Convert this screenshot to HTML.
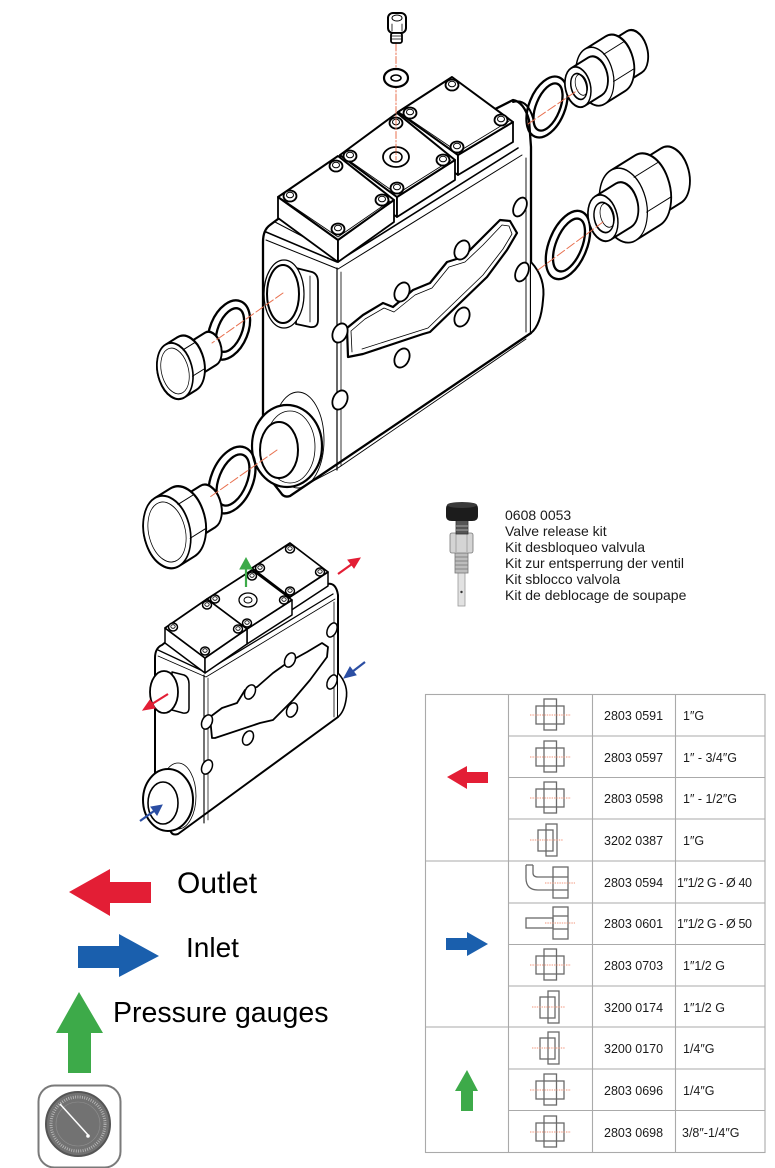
<!DOCTYPE html>
<html><head><meta charset="utf-8">
<style>
html,body{margin:0;padding:0;background:#fff;}
svg{display:block;}
text{font-family:"Liberation Sans",Arial,sans-serif;}
</style></head>
<body>
<svg width="775" height="1168" viewBox="0 0 775 1168" xmlns="http://www.w3.org/2000/svg">
<defs>
<g id="scr">
<ellipse cx="0" cy="0" rx="6.5" ry="5.5" fill="#fff" stroke="#000" stroke-width="1.8"/>
<ellipse cx="0" cy="-1" rx="3.5" ry="2.8" fill="none" stroke="#000" stroke-width="1"/>
</g>
<g id="scs">
<ellipse cx="0" cy="0" rx="4.5" ry="4" fill="#fff" stroke="#000" stroke-width="1.5"/>
<ellipse cx="0" cy="-0.5" rx="2.2" ry="1.8" fill="none" stroke="#000" stroke-width="0.8"/>
</g>
<g id="icA">
<rect x="-6" y="-16" width="12.5" height="31" fill="none" stroke="#6a6a6a" stroke-width="1.3"/>
<rect x="-14" y="-9" width="28" height="18" fill="none" stroke="#6a6a6a" stroke-width="1.3"/>
<line x1="-20" y1="0" x2="21" y2="0" stroke="#f2957a" stroke-width="0.9" stroke-dasharray="1.4 1"/>
</g>
<g id="icB">
<rect x="-12" y="-10" width="15" height="21" fill="none" stroke="#6a6a6a" stroke-width="1.3"/>
<rect x="-4" y="-16" width="11" height="32" fill="none" stroke="#6a6a6a" stroke-width="1.3"/>
<line x1="-20" y1="0" x2="13" y2="0" stroke="#f2957a" stroke-width="0.9" stroke-dasharray="1.4 1"/>
</g>
</defs>

<!-- ================= MAIN BODY ================= -->
<g stroke-linejoin="round" stroke-linecap="round">
<path d="M263,242 Q263,230 270,225 L278,219 L513,100 Q524,102 529,120 L531,147 L531,333 L290,496 Q284,498 281,493 L263,470 Z" fill="#fff" stroke="#000" stroke-width="2.3"/>
<path d="M266,232 L337,262 L518,148" fill="none" stroke="#000" stroke-width="1.6"/>
<path d="M266,240 L338,269 L522,155" fill="none" stroke="#000" stroke-width="1"/>
<path d="M275,222 L340,256" fill="none" stroke="#000" stroke-width="1"/>
<line x1="337" y1="268" x2="337" y2="470" stroke="#000" stroke-width="1.2"/>
<line x1="341" y1="272" x2="341" y2="466" stroke="#000" stroke-width="0.8"/>
<line x1="526" y1="158" x2="526" y2="332" stroke="#000" stroke-width="0.9"/>
<path d="M300,488 L338,468 L526,339" fill="none" stroke="#000" stroke-width="0.9"/>
<path d="M531,262 Q546,278 543,300 Q541,325 531,333" fill="#fff" stroke="#000" stroke-width="2"/>
<path d="M513,102 Q527,98 533,118" fill="none" stroke="#000" stroke-width="2"/>
<path d="M348,357 L347,328 L363,315 L383,303 L393,307 L413,290 L430,283 L447,262 L463,257 L480,240 L500,220 L510,221 L517,233 L507,250 L487,277 L460,303 L430,332 L423,334 L363,354 Z" fill="none" stroke="#000" stroke-width="2.2"/>
<path d="M352,352 L351,331 L365,319 L384,308 L394,312 L415,295 L432,288 L449,267 L465,262 L483,245 L502,225 L509,226 L512,234 L503,249 L483,275 L457,300 L428,328 L362,349" fill="none" stroke="#000" stroke-width="0.8"/>
<g fill="#fff" stroke="#000" stroke-width="1.8">
<ellipse cx="462" cy="250" rx="7" ry="10" transform="rotate(25 462 250)"/>
<ellipse cx="402" cy="292" rx="7" ry="10" transform="rotate(25 402 292)"/>
<ellipse cx="462" cy="317" rx="7" ry="10" transform="rotate(25 462 317)"/>
<ellipse cx="402" cy="358" rx="7" ry="10" transform="rotate(25 402 358)"/>
<ellipse cx="340" cy="333" rx="7" ry="10" transform="rotate(25 340 333)"/>
<ellipse cx="340" cy="400" rx="7" ry="10" transform="rotate(25 340 400)"/>
<ellipse cx="522" cy="272" rx="6" ry="10" transform="rotate(25 522 272)"/>
<ellipse cx="520" cy="207" rx="6" ry="10" transform="rotate(25 520 207)"/>
</g>
<path d="M296,268 L312,272 Q318,274 318,282 L318,320 Q318,328 310,327 L296,324 Z" fill="#fff" stroke="#000" stroke-width="1.8"/>
<line x1="310" y1="276" x2="310" y2="322" stroke="#000" stroke-width="0.8"/>
<ellipse cx="284" cy="294" rx="20" ry="34" fill="#fff" stroke="#000" stroke-width="1.2"/>
<ellipse cx="283" cy="294" rx="16" ry="29" fill="#fff" stroke="#000" stroke-width="2"/>
<ellipse cx="298" cy="440" rx="26" ry="48" fill="none" stroke="#000" stroke-width="0.9"/>
<ellipse cx="287" cy="446" rx="35" ry="41" fill="#fff" stroke="#000" stroke-width="2.2"/>
<ellipse cx="290" cy="447" rx="25" ry="36" fill="none" stroke="#000" stroke-width="0.8"/>
<ellipse cx="279" cy="450" rx="19" ry="28" fill="#fff" stroke="#000" stroke-width="2"/>

<!-- blocks -->
<path d="M398,112 L458,155 L458,175 L398,132 Z" fill="#fff" stroke="#000" stroke-width="1.8"/>
<path d="M458,155 L513,122 L513,142 L458,175 Z" fill="#fff" stroke="#000" stroke-width="1.8"/>
<path d="M398,112 L452,77 L513,122 L458,155 Z" fill="#fff" stroke="#000" stroke-width="2"/>
<path d="M402,114 L458,152 L509,121" fill="none" stroke="#000" stroke-width="0.8"/>
<path d="M340,155 L397,197 L397,217 L340,175 Z" fill="#fff" stroke="#000" stroke-width="1.8"/>
<path d="M397,197 L455,160 L455,180 L397,217 Z" fill="#fff" stroke="#000" stroke-width="1.8"/>
<path d="M340,155 L397,113 L455,160 L397,197 Z" fill="#fff" stroke="#000" stroke-width="2"/>
<path d="M344,157 L397,194 L451,160" fill="none" stroke="#000" stroke-width="0.8"/>
<path d="M278,197 L338,240 L338,262 L278,218 Z" fill="#fff" stroke="#000" stroke-width="1.8"/>
<path d="M338,240 L394,200 L394,222 L338,262 Z" fill="#fff" stroke="#000" stroke-width="1.8"/>
<path d="M278,197 L338,156 L394,200 L338,240 Z" fill="#fff" stroke="#000" stroke-width="2"/>
<path d="M282,199 L338,237 L390,201" fill="none" stroke="#000" stroke-width="0.8"/>
<use href="#scr" x="290" y="196"/><use href="#scr" x="336" y="166"/><use href="#scr" x="382" y="200"/><use href="#scr" x="338" y="229"/>
<use href="#scr" x="350" y="156"/><use href="#scr" x="396" y="123"/><use href="#scr" x="443" y="160"/><use href="#scr" x="397" y="188"/>
<use href="#scr" x="410" y="113"/><use href="#scr" x="452" y="85"/><use href="#scr" x="501" y="120"/><use href="#scr" x="457" y="147"/>
<ellipse cx="396" cy="157" rx="13" ry="10" fill="#fff" stroke="#000" stroke-width="1.8"/>
<ellipse cx="396" cy="157" rx="6" ry="5" fill="#fff" stroke="#000" stroke-width="1.5"/>
<!-- top screw + washer -->
<line x1="396" y1="44" x2="396" y2="160" stroke="#e8704f" stroke-width="1" stroke-dasharray="7 2 1.5 2"/>
<rect x="388" y="13" width="18" height="20" rx="5" fill="#fff" stroke="#000" stroke-width="2"/>
<ellipse cx="397" cy="18" rx="5" ry="3" fill="none" stroke="#000" stroke-width="1"/>
<line x1="392" y1="24" x2="392" y2="31" stroke="#000" stroke-width="0.8"/><line x1="402" y1="24" x2="402" y2="31" stroke="#000" stroke-width="0.8"/>
<rect x="391" y="33" width="11" height="10" rx="2" fill="#fff" stroke="#000" stroke-width="1.8"/>
<line x1="391" y1="36" x2="402" y2="36" stroke="#000" stroke-width="0.8"/><line x1="391" y1="39" x2="402" y2="39" stroke="#000" stroke-width="0.8"/>
<ellipse cx="396" cy="78" rx="12" ry="9" fill="#fff" stroke="#000" stroke-width="2.2"/>
<ellipse cx="396" cy="78" rx="5" ry="3" fill="#fff" stroke="#000" stroke-width="1.6"/>

<!-- gaskets -->
<g fill="none" stroke="#000">
<ellipse cx="229" cy="330" rx="19" ry="31" transform="rotate(22 229 330)" stroke-width="2.3"/>
<ellipse cx="230" cy="330" rx="12" ry="23" transform="rotate(22 230 330)" stroke-width="2.3"/>
<ellipse cx="232" cy="480" rx="21" ry="35" transform="rotate(22 232 480)" stroke-width="2.3"/>
<ellipse cx="233" cy="480" rx="14" ry="27" transform="rotate(22 233 480)" stroke-width="2.3"/>
<ellipse cx="547" cy="107" rx="18" ry="32" transform="rotate(22 547 107)" stroke-width="2.3"/>
<ellipse cx="548" cy="107" rx="12" ry="25" transform="rotate(22 548 107)" stroke-width="2.3"/>
<ellipse cx="568" cy="245" rx="19" ry="36" transform="rotate(22 568 245)" stroke-width="2.3"/>
<ellipse cx="569" cy="245" rx="13" ry="28" transform="rotate(22 569 245)" stroke-width="2.3"/>
</g>

<!-- upper right fitting -->
<g transform="matrix(0.85,-0.53,0.34,0.94,578,87)" fill="#fff" stroke="#000" stroke-width="2">
<path d="M44,-22 L66,-22 A14,22 0 0 1 66,22 L44,22 A14,22 0 0 1 44,-22 Z"/>
<path d="M20,-29 L44,-29 A19,29 0 0 1 44,29 L20,29 A19,29 0 0 1 20,-29 Z"/>
<ellipse cx="20" cy="0" rx="19" ry="29" stroke-width="1.3"/>
<path d="M36,-14.5 L60,-14.5 M36,14.5 L60,14.5" stroke-width="1"/>
<path d="M0,-20 L20,-20 A13,20 0 0 1 20,20 L0,20 A13,20 0 0 1 0,-20 Z"/>
<ellipse cx="0" cy="0" rx="13" ry="20" stroke-width="1.6"/>
<ellipse cx="1" cy="0" rx="8" ry="13" stroke-width="1.6"/>
<ellipse cx="4" cy="0" rx="6" ry="10.5" stroke-width="0.8" fill="none"/>
</g>
<!-- lower right fitting -->
<g transform="matrix(0.85,-0.53,0.34,0.94,603,218)" fill="#fff" stroke="#000" stroke-width="2">
<path d="M52,-29 L80,-29 A19,29 0 0 1 80,29 L52,29 A19,29 0 0 1 52,-29 Z"/>
<path d="M24,-37 L52,-37 A24,37 0 0 1 52,37 L24,37 A24,37 0 0 1 24,-37 Z"/>
<ellipse cx="24" cy="0" rx="24" ry="37" stroke-width="1.3"/>
<path d="M44,-18.5 L72,-18.5 M44,18.5 L72,18.5" stroke-width="1"/>
<path d="M0,-23 L24,-23 A15,23 0 0 1 24,23 L0,23 A15,23 0 0 1 0,-23 Z"/>
<ellipse cx="0" cy="0" rx="15" ry="23" stroke-width="1.6"/>
<ellipse cx="1" cy="0" rx="10" ry="15" stroke-width="1.6"/>
<ellipse cx="5" cy="0" rx="7" ry="12" stroke-width="0.8" fill="none"/>
</g>
<!-- upper left plug -->
<g transform="matrix(0.85,-0.53,0.34,0.94,175,371)" fill="#fff" stroke="#000" stroke-width="2.1">
<path d="M14,-17 L42,-17 A11,17 0 0 1 42,17 L14,17 A11,17 0 0 1 14,-17 Z"/>
<path d="M0,-28 L14,-28 A18,28 0 0 1 14,28 L0,28 A18,28 0 0 1 0,-28 Z"/>
<ellipse cx="0" cy="0" rx="18" ry="28" stroke-width="1.8"/>
<ellipse cx="0" cy="0" rx="14" ry="23" stroke-width="0.8" fill="none"/>
<path d="M15,-14 L29,-14 M15,14 L29,14" stroke-width="1"/>
</g>
<!-- lower left plug -->
<g transform="matrix(0.85,-0.53,0.34,0.94,167,532)" fill="#fff" stroke="#000" stroke-width="2.1">
<path d="M18,-22 L48,-22 A14,22 0 0 1 48,22 L18,22 A14,22 0 0 1 18,-22 Z"/>
<path d="M0,-36 L18,-36 A24,36 0 0 1 18,36 L0,36 A24,36 0 0 1 0,-36 Z"/>
<ellipse cx="0" cy="0" rx="24" ry="36" stroke-width="1.8"/>
<ellipse cx="0" cy="0" rx="19" ry="30" stroke-width="0.8" fill="none"/>
<path d="M20,-18 L38,-18 M20,18 L38,18" stroke-width="1"/>
</g>

<!-- axis lines -->
<g stroke="#e8704f" stroke-width="1" stroke-dasharray="9 3" fill="none">
<line x1="283" y1="293" x2="212" y2="343"/>
<line x1="277" y1="450" x2="210" y2="497"/>
<line x1="528" y1="124" x2="578" y2="90"/>
<line x1="538" y1="270" x2="603" y2="222"/>
</g>
</g>

<!-- ================= SMALL BODY ================= -->
<g stroke-linejoin="round" stroke-linecap="round">
<path d="M155,658 Q155,648 162,645 L167,641 L327,584 Q336,582 338,595 L338,717 L178,834 Q172,836 170,830 L155,805 Z" fill="#fff" stroke="#000" stroke-width="2"/>
<path d="M158,650 L205,672 L333,594" fill="none" stroke="#000" stroke-width="1.3"/>
<path d="M158,656 L206,677 L335,599" fill="none" stroke="#000" stroke-width="0.8"/>
<line x1="204" y1="675" x2="204" y2="823" stroke="#000" stroke-width="1.1"/>
<line x1="208" y1="678" x2="208" y2="820" stroke="#000" stroke-width="0.7"/>
<line x1="334" y1="602" x2="334" y2="717" stroke="#000" stroke-width="0.8"/>
<path d="M338,673 Q349,685 346,700 Q344,712 338,717" fill="#fff" stroke="#000" stroke-width="1.6"/>
<path d="M212,738 L210,717 L222,708 L237,703 L245,690 L257,687 L273,673 L287,663 L307,652 L322,643 L328,647 L327,657 L310,680 L293,700 L273,720 L260,723 L215,738 Z" fill="none" stroke="#000" stroke-width="1.8"/>
<g fill="#fff" stroke="#000" stroke-width="1.5">
<ellipse cx="290" cy="660" rx="5" ry="7.5" transform="rotate(25 290 660)"/>
<ellipse cx="250" cy="692" rx="5" ry="7.5" transform="rotate(25 250 692)"/>
<ellipse cx="292" cy="710" rx="5" ry="7.5" transform="rotate(25 292 710)"/>
<ellipse cx="248" cy="738" rx="5" ry="7.5" transform="rotate(25 248 738)"/>
<ellipse cx="207" cy="722" rx="5" ry="7.5" transform="rotate(25 207 722)"/>
<ellipse cx="207" cy="767" rx="5" ry="7.5" transform="rotate(25 207 767)"/>
<ellipse cx="332" cy="630" rx="4.5" ry="7.5" transform="rotate(25 332 630)"/>
<ellipse cx="332" cy="682" rx="4.5" ry="7.5" transform="rotate(25 332 682)"/>
</g>
<path d="M172,672 L184,675 Q189,677 189,684 L189,708 Q189,714 183,713 L172,710 Z" fill="#fff" stroke="#000" stroke-width="1.5"/>
<ellipse cx="164" cy="692" rx="14" ry="21" fill="#fff" stroke="#000" stroke-width="1.8"/>
<ellipse cx="178" cy="796" rx="18" ry="33" fill="none" stroke="#000" stroke-width="0.8"/>
<ellipse cx="168" cy="800" rx="25" ry="31" fill="#fff" stroke="#000" stroke-width="2"/>
<ellipse cx="163" cy="803" rx="15" ry="21" fill="#fff" stroke="#000" stroke-width="1.6"/>
<path d="M252,568 L290,597 L290,611 L252,582 Z" fill="#fff" stroke="#000" stroke-width="1.5"/>
<path d="M290,597 L328,572 L328,586 L290,611 Z" fill="#fff" stroke="#000" stroke-width="1.5"/>
<path d="M252,568 L290,543 L328,572 L290,597 Z" fill="#fff" stroke="#000" stroke-width="1.7"/>
<path d="M207,599 L247,629 L247,644 L207,614 Z" fill="#fff" stroke="#000" stroke-width="1.5"/>
<path d="M247,629 L292,600 L292,615 L247,644 Z" fill="#fff" stroke="#000" stroke-width="1.5"/>
<path d="M207,599 L252,570 L292,600 L247,629 Z" fill="#fff" stroke="#000" stroke-width="1.7"/>
<path d="M165,628 L205,658 L205,673 L165,643 Z" fill="#fff" stroke="#000" stroke-width="1.5"/>
<path d="M205,658 L247,629 L247,644 L205,673 Z" fill="#fff" stroke="#000" stroke-width="1.5"/>
<path d="M165,628 L207,599 L247,629 L205,658 Z" fill="#fff" stroke="#000" stroke-width="1.7"/>
<use href="#scs" x="173" y="627"/><use href="#scs" x="207" y="605"/><use href="#scs" x="238" y="629"/><use href="#scs" x="205" y="651"/>
<use href="#scs" x="215" y="599"/><use href="#scs" x="252" y="576"/><use href="#scs" x="284" y="600"/><use href="#scs" x="247" y="623"/>
<use href="#scs" x="260" y="568"/><use href="#scs" x="290" y="549"/><use href="#scs" x="320" y="572"/><use href="#scs" x="290" y="591"/>
<ellipse cx="248" cy="600" rx="9" ry="7" fill="#fff" stroke="#000" stroke-width="1.3"/>
<ellipse cx="248" cy="600" rx="4" ry="3" fill="none" stroke="#000" stroke-width="1"/>
</g>
<g stroke-width="2.2" fill="none">
<line x1="246" y1="587" x2="246" y2="566" stroke="#3daa49"/>
<path d="M240,569 L246,558 L252,569 Z" fill="#3daa49" stroke="#3daa49" stroke-width="1"/>
<line x1="338" y1="574" x2="352" y2="564" stroke="#e31e35"/>
<path d="M348,560 L360,558 L354,568 Z" fill="#e31e35" stroke="#e31e35" stroke-width="1"/>
<line x1="365" y1="662" x2="352" y2="672" stroke="#2b4ea3"/>
<path d="M350,667 L344,678 L356,675 Z" fill="#2b4ea3" stroke="#2b4ea3" stroke-width="1"/>
<line x1="168" y1="694" x2="152" y2="704" stroke="#e31e35"/>
<path d="M150,700 L143,710 L155,708 Z" fill="#e31e35" stroke="#e31e35" stroke-width="1"/>
<line x1="140" y1="821" x2="154" y2="811" stroke="#2b4ea3"/>
<path d="M151,807 L162,805 L157,815 Z" fill="#2b4ea3" stroke="#2b4ea3" stroke-width="1"/>
</g>

<!-- ================= KIT ================= -->
<rect x="458" y="572" width="7" height="34" fill="#e2e2e2" stroke="#9a9a9a" stroke-width="0.8"/>
<circle cx="461.5" cy="592" r="1.2" fill="#333"/>
<rect x="455" y="553" width="13" height="20" fill="#bdbdbd" stroke="#777" stroke-width="0.8"/>
<g stroke="#777" stroke-width="0.8"><line x1="455" y1="557" x2="468" y2="557"/><line x1="455" y1="561" x2="468" y2="561"/><line x1="455" y1="565" x2="468" y2="565"/><line x1="455" y1="569" x2="468" y2="569"/></g>
<rect x="450" y="533" width="23" height="20" rx="2" fill="#d4d4d4" stroke="#777" stroke-width="0.8"/>
<line x1="456" y1="534" x2="456" y2="552" stroke="#999" stroke-width="0.8"/><line x1="467" y1="534" x2="467" y2="552" stroke="#999" stroke-width="0.8"/>
<rect x="456" y="520" width="12" height="14" fill="#555" stroke="#333" stroke-width="0.8"/>
<g stroke="#ccc" stroke-width="0.7"><line x1="456" y1="526" x2="468" y2="526"/><line x1="456" y1="530" x2="468" y2="530"/></g>
<path d="M446,509 Q446,503 452,503 L472,503 Q478,503 478,509 L478,516 Q478,521 472,521 L452,521 Q446,521 446,516 Z" fill="#1c1c1c"/>
<ellipse cx="462" cy="505" rx="15" ry="3" fill="#3a3a3a"/>
<text x="505" y="520" font-size="14" fill="#1a1a1a">0608 0053</text>
<text x="505" y="536" font-size="14" fill="#1a1a1a">Valve release kit</text>
<text x="505" y="552" font-size="14" fill="#1a1a1a">Kit desbloqueo valvula</text>
<text x="505" y="568" font-size="14" fill="#1a1a1a">Kit zur entsperrung der ventil</text>
<text x="505" y="584" font-size="14" fill="#1a1a1a">Kit sblocco valvola</text>
<text x="505" y="600" font-size="14" fill="#1a1a1a">Kit de deblocage de soupape</text>

<!-- ================= LEGEND ================= -->
<path d="M69,892 L110,869 L110,882 L151,882 L151,903 L110,903 L110,916 Z" fill="#e31e35"/>
<text x="177" y="893" font-size="30" fill="#000">Outlet</text>
<path d="M78,946 L119,946 L119,934 L159,956 L119,977 L119,968 L78,968 Z" fill="#1a5fad"/>
<text x="186" y="957" font-size="28" fill="#000">Inlet</text>
<path d="M79,992 L103,1033 L91,1033 L91,1073 L68,1073 L68,1033 L56,1033 Z" fill="#3daa49"/>
<text x="113" y="1022" font-size="28.5" fill="#000">Pressure gauges</text>
<rect x="38.5" y="1085.5" width="82" height="82" rx="16" fill="#fff" stroke="#7a7a7a" stroke-width="2"/>
<circle cx="78" cy="1124" r="32" fill="#727272" stroke="#555" stroke-width="2"/>
<circle cx="78" cy="1124" r="27" fill="none" stroke="#bdbdbd" stroke-width="3" stroke-dasharray="0.8 1.5"/>
<circle cx="78" cy="1124" r="22" fill="none" stroke="#8f8f8f" stroke-width="0.6"/>
<line x1="60" y1="1104" x2="89" y2="1136" stroke="#fff" stroke-width="1.5"/>
<circle cx="88" cy="1136" r="1.8" fill="#fff"/>

<!-- ================= TABLE ================= -->
<g stroke="#aaaaaa" stroke-width="1.1" fill="none">
<rect x="425.5" y="694.5" width="339.5" height="458"/>
<line x1="508.5" y1="694.5" x2="508.5" y2="1152.5"/>
<line x1="592.5" y1="694.5" x2="592.5" y2="1152.5"/>
<line x1="675.5" y1="694.5" x2="675.5" y2="1152.5"/>
<line x1="425.5" y1="861" x2="765" y2="861"/>
<line x1="425.5" y1="1027" x2="765" y2="1027"/>
<line x1="508.5" y1="736" x2="765" y2="736"/>
<line x1="508.5" y1="777.5" x2="765" y2="777.5"/>
<line x1="508.5" y1="819" x2="765" y2="819"/>
<line x1="508.5" y1="903" x2="765" y2="903"/>
<line x1="508.5" y1="944.5" x2="765" y2="944.5"/>
<line x1="508.5" y1="986" x2="765" y2="986"/>
<line x1="508.5" y1="1069" x2="765" y2="1069"/>
<line x1="508.5" y1="1110.5" x2="765" y2="1110.5"/>
</g>
<path d="M447,777 L467,766 L467,772 L488,772 L488,783 L467,783 L467,789 Z" fill="#e31e35"/>
<path d="M446,938 L467,938 L467,932 L488,944 L467,956 L467,950 L446,950 Z" fill="#1a5fad"/>
<path d="M467,1070 L478,1091 L473,1091 L473,1111 L461,1111 L461,1091 L455,1091 Z" fill="#3daa49"/>
<use href="#icA" x="550" y="715"/>
<use href="#icA" x="550" y="757"/>
<use href="#icA" x="550" y="798"/>
<use href="#icB" x="550" y="840"/>
<g transform="translate(550,882)" fill="none" stroke="#6a6a6a" stroke-width="1.3">
<path d="M-24,-17 L-24,-4 Q-24,8 -12,8 L3,8"/>
<path d="M-17,-17 L-17,-9 Q-17,-5 -12,-5 L3,-5"/>
<line x1="-24" y1="-17" x2="-17" y2="-17"/>
<rect x="3" y="-15" width="15" height="31"/>
<line x1="3" y1="-5" x2="18" y2="-5"/><line x1="3" y1="8" x2="18" y2="8"/>
<line x1="-5" y1="1" x2="25" y2="1" stroke="#f2957a" stroke-width="0.9" stroke-dasharray="1.4 1"/>
</g>
<g transform="translate(550,923)" fill="none" stroke="#6a6a6a" stroke-width="1.3">
<rect x="-24" y="-5" width="27" height="10"/>
<rect x="3" y="-16" width="15" height="32"/>
<line x1="3" y1="-7" x2="18" y2="-7"/><line x1="3" y1="6" x2="18" y2="6"/>
<line x1="-5" y1="0" x2="25" y2="0" stroke="#f2957a" stroke-width="0.9" stroke-dasharray="1.4 1"/>
</g>
<use href="#icA" x="550" y="965"/>
<use href="#icB" x="552" y="1007"/>
<use href="#icB" x="552" y="1048"/>
<use href="#icA" x="550" y="1090"/>
<use href="#icA" x="550" y="1132"/>
<g font-size="12.5" fill="#1a1a1a">
<text x="604" y="720">2803 0591</text><text x="683" y="720">1″G</text>
<text x="604" y="762">2803 0597</text><text x="683" y="762">1″ - 3/4″G</text>
<text x="604" y="803">2803 0598</text><text x="683" y="803">1″ - 1/2″G</text>
<text x="604" y="845">3202 0387</text><text x="683" y="845">1″G</text>
<text x="604" y="887">2803 0594</text><text x="677" y="887" letter-spacing="-0.4">1″1/2 G - Ø 40</text>
<text x="604" y="928">2803 0601</text><text x="677" y="928" letter-spacing="-0.4">1″1/2 G - Ø 50</text>
<text x="604" y="970">2803 0703</text><text x="683" y="970">1″1/2 G</text>
<text x="604" y="1012">3200 0174</text><text x="683" y="1012">1″1/2 G</text>
<text x="604" y="1053">3200 0170</text><text x="683" y="1053">1/4″G</text>
<text x="604" y="1095">2803 0696</text><text x="683" y="1095">1/4″G</text>
<text x="604" y="1137">2803 0698</text><text x="682" y="1137">3/8″-1/4″G</text>
</g>
</svg>
</body></html>
